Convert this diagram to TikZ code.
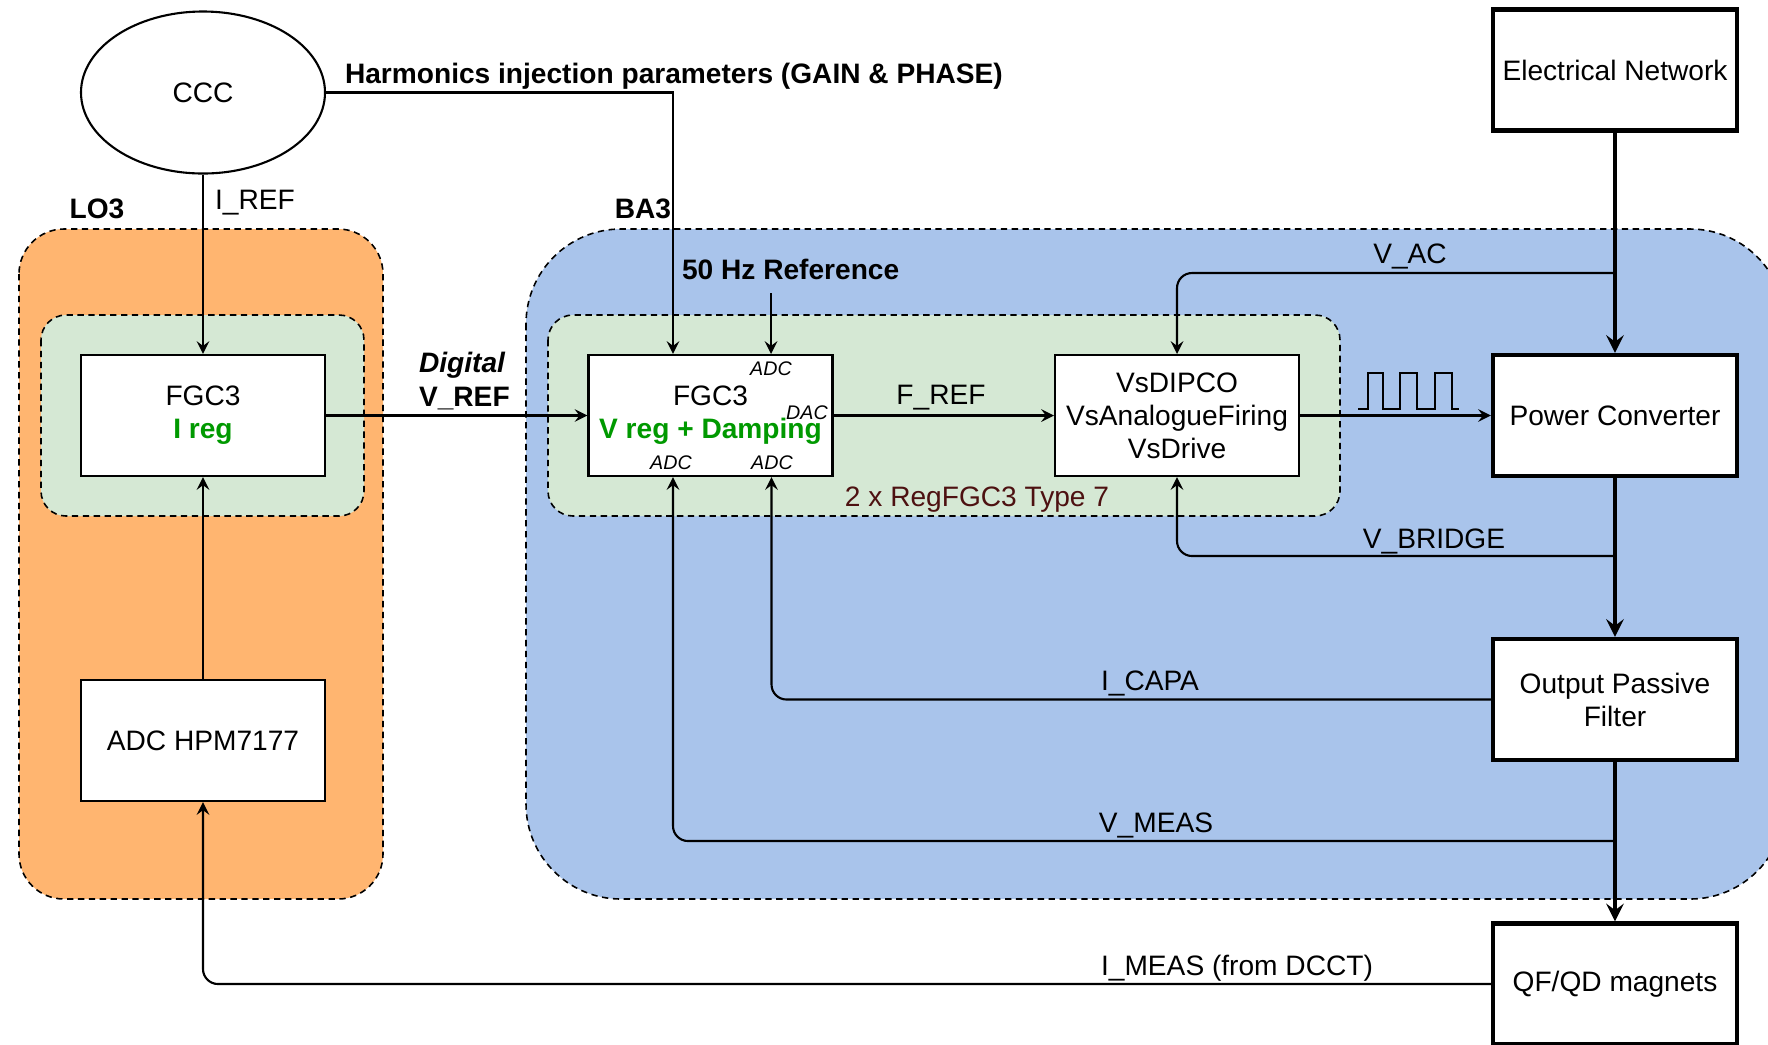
\documentclass[tikz,border=0pt]{standalone}
\usepackage{fontspec}
\setmainfont{Liberation Sans}
\usetikzlibrary{shapes.geometric}
\definecolor{lozone}{HTML}{FFB570}
\definecolor{bazone}{HTML}{A9C4EB}
\definecolor{fgczone}{HTML}{D5E8D4}
\definecolor{regtext}{HTML}{009900}
\definecolor{typetext}{HTML}{4D1111}

\begin{document}
\fontsize{8}{9.4}\selectfont
\begin{tikzpicture}[>=stealth, line width=0.6pt,
  box/.style={draw, rectangle, fill=white, minimum width=2.44cm, minimum height=1.21cm, inner sep=0pt, align=center},
  bigbox/.style={box, line width=1.2pt},
  zone/.style={draw, dash pattern=on 1.8pt off 1.3pt, line width=0.45pt},
  tag/.style={font=\fontsize{5.6}{6}\selectfont\itshape, inner sep=0pt},
  note/.style={anchor=west, inner sep=0pt},
  feed/.style={->, rounded corners=1.5mm},
  power/.style={->, line width=1.2pt}]
\useasboundingbox (0,0) rectangle (17.68,-10.44);

% zones
\draw[zone, fill=lozone, rounded corners=0.45cm] (0.19,-2.29) rectangle (3.83,-8.99);
\draw[zone, fill=bazone, rounded corners=0.95cm] (5.26,-2.29) rectangle (17.85,-8.99);
\draw[zone, fill=fgczone, rounded corners=0.25cm] (0.41,-3.15) rectangle (3.64,-5.16);
\draw[zone, fill=fgczone, rounded corners=0.25cm] (5.48,-3.15) rectangle (13.40,-5.16);
\node (lo) at (0.97,-2.09) {\textbf{LO3}};
\node (ba) at (6.43,-2.09) {\textbf{BA3}};
\node[text=typetext] (t7) at (9.77,-5.00) {2 x RegFGC3 Type 7};

% blocks
\node[draw, ellipse, fill=white, minimum width=2.44cm, minimum height=1.62cm] (a) at (2.03,-0.925) {CCC};
\node[box] (b) at (2.03,-4.155) {FGC3\\\textcolor{regtext}{\textbf{I reg}}};
\node[box] (c) at (2.03,-7.405) {ADC HPM7177};
\node[box] (d) at (7.105,-4.155) {FGC3\\\textcolor{regtext}{\textbf{V reg + Damping}}};
\node[box] (e) at (11.77,-4.155) {VsDIPCO\\VsAnalogueFiring\\VsDrive};
\node[bigbox] (f) at (16.15,-4.155) {Power Converter};
\node[bigbox] (g) at (16.15,-0.70) {Electrical Network};
\node[bigbox] (h) at (16.15,-6.995) {Output Passive\\Filter};
\node[bigbox] (i) at (16.15,-9.84) {QF/QD magnets};

% converter ports
\node[tag] (p1) at (7.71,-3.69) {ADC};
\node[tag] (p2) at (8.07,-4.13) {DAC};
\node[tag] (p3) at (6.71,-4.63) {ADC};
\node[tag] (p4) at (7.72,-4.63) {ADC};

\coordinate (hz) at (7.71,-2.93);
\coordinate (vac) at (16.15,-2.73);
\coordinate (vbr) at (16.15,-5.56);
\coordinate (vms) at (16.15,-8.41);

% signals
\draw[->] (a.east) -| ([xshift=-3.75mm]d.north);
\draw[->] (hz) -- (hz |- d.north);
\draw[->] (a) -- (b);
\draw[->] (c) -- (b);
\draw[->] (b) -- (d);
\draw[->] (d) -- (e);
\draw[->] (e) -- (f);
\draw[feed] (vac) -| (e.north);
\draw[feed] (vbr) -| (e.south);
\draw[feed] (h.west) -| ([xshift=6.1mm]d.south);
\draw[feed] (vms) -| ([xshift=-3.75mm]d.south);
\draw[feed] (i.west) -| (c.south);
\draw[power] (g) -- (f);
\draw[power] (f) -- (h);
\draw[power] (h) -- (i);
\draw (13.58,-4.09) -- (13.68,-4.09) -- (13.68,-3.73) -- (13.83,-3.73) -- (13.83,-4.09)
  -- (14.00,-4.09) -- (14.00,-3.73) -- (14.17,-3.73) -- (14.17,-4.09) -- (14.35,-4.09)
  -- (14.35,-3.73) -- (14.52,-3.73) -- (14.52,-4.09) -- (14.59,-4.09);

% labels
\node[note] (hp) at (3.44,-0.76) {\textbf{Harmonics injection parameters (GAIN \& PHASE)}};
\node[note] (ir) at (2.14,-2.03) {I\_REF};
\node[note] (hr) at (6.81,-2.69) {\textbf{50 Hz Reference}};
\node[note, align=left] (vr) at (4.18,-3.81) {\textbf{\textit{Digital}}\\\textbf{V\_REF}};
\node (fr) at (9.41,-3.98) {F\_REF};
\node (la) at (14.10,-2.56) {V\_AC};
\node (lb) at (14.34,-5.41) {V\_BRIDGE};
\node (lc) at (11.50,-6.83) {I\_CAPA};
\node (lm) at (11.56,-8.25) {V\_MEAS};
\node (li) at (12.37,-9.68) {I\_MEAS (from DCCT)};
\end{tikzpicture}
\end{document}
